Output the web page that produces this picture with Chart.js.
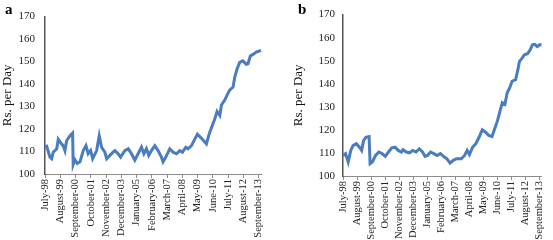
<!DOCTYPE html>
<html>
<head>
<meta charset="utf-8">
<script src="https://cdn.jsdelivr.net/npm/chart.js@4.4.0/dist/chart.umd.min.js"></script>
<style>
  body { margin: 0; background: #fff; }
  .panel { position: absolute; top: 0; height: 240px; }
  .tag { position: absolute; top: 1px; font: bold 15px 'Liberation Serif', serif; color: #000; }
</style>
</head>
<body>
<div class="panel" style="left:0;width:276px;"><canvas id="chartA" width="276" height="240"></canvas></div>
<div class="panel" style="left:276px;width:277px;"><canvas id="chartB" width="277" height="240"></canvas></div>
<span class="tag" style="left:5px;">a</span>
<span class="tag" style="left:298px;">b</span>
<script>
// x axis labels, one every 13 months starting July 1998
const tickLabels = ['July-98', 'August-99', 'September-00', 'October-01', 'November-02',
    'December-03', 'January-05', 'February-06', 'March-07', 'April-08', 'May-09',
    'June-10', 'July-11', 'August-12', 'September-13'];

// panel a: months since July-98 and Rs. per day
const monthsA = [0, 1.5, 4.2, 5.7, 7, 10, 11.3, 14, 15.6, 17, 18.4, 21.3, 23.5, 24, 25.5, 27.5,
    29.8, 32.6, 34.9, 36.8, 38.9, 40.6, 44, 46.2, 48.2, 51, 52.5, 55.3, 58, 59.5, 62.3, 64.4,
    68, 70.9, 73.7, 76.5, 79.3, 82.2, 84.2, 86.4, 88.4, 90.7, 93.5, 96.3, 99.2, 100.6, 102.9,
    106.3, 109.1, 112, 114.8, 117.1, 119.9, 121.8, 124.8, 127.6, 129.8, 132.7, 135.2, 137.5,
    139.8, 141.8, 144.6, 146.6, 148.9, 150.3, 153.1, 155.1, 157.3, 160.2, 161.6, 163.6, 165.8,
    168.6, 171.5, 172.9, 174.9, 177.2, 180, 184];
const priceA = [112, 112.3, 107.5, 106.8, 109.7, 111.2, 115.5, 113.4, 112.5, 110.4, 114.8, 117,
    118.2, 104.2, 106.4, 104.7, 105.4, 110.4, 112.6, 109, 110.4, 106.8, 110.4, 117, 111.9, 109.7,
    106.8, 108.3, 109.7, 110.4, 109, 107.5, 110.4, 111.2, 109, 106.1, 109, 112, 109, 111.2, 108.3,
    110.4, 112.6, 110.4, 107.5, 105.4, 107.5, 111.2, 109.7, 109, 110.4, 109.7, 111.9, 111.2,
    112.6, 115.5, 117.7, 116.2, 114.8, 113.4, 117.7, 120.6, 124.5, 127.8, 126, 130.7, 132.9,
    135.1, 137.3, 138.7, 143, 146.7, 149.6, 150.3, 148.8, 149, 152.5, 153.2, 154.2, 155];

// panel b
const monthsB = [0, 2.4, 4.8, 7.2, 9.3, 12.3, 15.2, 17.3, 19.1, 21.2, 24.2, 25.1, 27.2, 30.2,
    33.2, 36.2, 39.2, 42.2, 45.2, 48.2, 51.2, 54.2, 55.7, 58.7, 61.7, 64.7, 67.7, 70.7, 73.7,
    76.1, 78.3, 81.2, 84.2, 87.2, 90.2, 93.2, 96.2, 99.2, 102.2, 105.2, 109.7, 112.7, 115.1,
    117.2, 120.2, 123.1, 126.1, 129.1, 132.1, 135.1, 138.1, 141.1, 143.2, 145.6, 147.7, 150.1,
    152.2, 154.6, 156.7, 160, 162.1, 163.6, 165.7, 168.1, 171.1, 173.5, 175.6, 177.7, 180.1,
    182.2, 184];
const priceB = [108.9, 109.7, 106.1, 111.1, 113.2, 114, 112.5, 111.1, 115.4, 116.8, 117.1,
    105.4, 106.1, 108.9, 110.4, 109.7, 108.5, 110.4, 112.2, 112.5, 111.1, 110.4, 111.4, 110.4,
    110, 111.1, 110.4, 111.8, 110.4, 108.5, 108.9, 110.4, 109.7, 108.9, 109.7, 108.5, 107.5,
    105.6, 106.8, 107.5, 107.5, 108.9, 111.1, 109.3, 112.5, 114, 116.8, 120, 119, 117.6, 117.1,
    121.1, 124, 128.2, 131.8, 131.1, 136.1, 138.3, 141.1, 141.8, 146.1, 149.7, 150.9, 152.6,
    153, 154.7, 156.9, 157.1, 156.1, 156.9, 156.9];

const serif = 'Liberation Serif';

function makeChart(id, months, prices, cfg) {
    const ctx = document.getElementById(id).getContext('2d');
    return new Chart(ctx, {
        type: 'line',
        data: {
            datasets: [{
                data: months.map((m, i) => ({ x: m, y: prices[i] })),
                borderColor: '#4a7cc0',
                borderWidth: 3,
                pointRadius: 0,
                tension: 0,
                clip: false
            }]
        },
        options: {
            responsive: false,
            animation: false,
            layout: { padding: { left: cfg.padLeft, right: cfg.padRight, top: 13, bottom: 0 } },
            scales: {
                x: {
                    type: 'linear',
                    min: 0,
                    max: 184,
                    afterFit: s => { s.height = cfg.xHeight; },
                    border: { color: '#8c8c8c', width: 1 },
                    grid: { drawOnChartArea: false, drawTicks: true, tickLength: 4, color: '#8c8c8c' },
                    ticks: {
                        stepSize: 13,
                        includeBounds: false,
                        autoSkip: false,
                        maxRotation: 90,
                        minRotation: 90,
                        padding: 1,
                        color: '#222',
                        font: { family: serif, size: 10.5 },
                        callback: v => (v % 13 === 0 ? tickLabels[v / 13] : '')
                    }
                },
                y: {
                    min: 100,
                    max: 170,
                    afterFit: s => { s.width = cfg.yWidth; },
                    border: { color: '#555', width: 1.5 },
                    grid: { drawOnChartArea: false, drawTicks: false },
                    ticks: {
                        stepSize: 10,
                        padding: cfg.tickPad,
                        color: '#222',
                        font: { family: serif, size: 11 }
                    },
                    title: {
                        display: true,
                        text: 'Rs. per Day',
                        color: '#111',
                        padding: { top: 0, bottom: 0 },
                        font: { family: serif, size: 13 }
                    }
                }
            },
            plugins: {
                legend: { display: false },
                tooltip: { enabled: false }
            }
        }
    });
}

makeChart('chartA', monthsA, priceA, { padLeft: 0, padRight: 15, yWidth: 45, xHeight: 66, tickPad: 10 });
makeChart('chartB', monthsB, priceB, { padLeft: 15, padRight: 5, yWidth: 52, xHeight: 64, tickPad: 8 });
</script>
</body>
</html>
